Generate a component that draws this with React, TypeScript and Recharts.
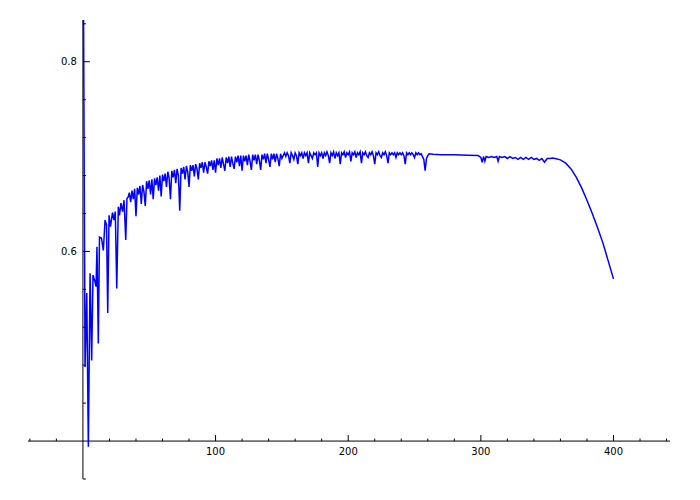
import { LineChart, Line, XAxis, YAxis, ReferenceLine, ReferenceDot } from 'recharts';

// points, [x, y]
const startPoints: [number, number][] = [
  [0.5, 0.844], [1.6, 0.478], [2.9, 0.556], [4.1, 0.394], [5.4, 0.577], [6.6, 0.485],
  [7.6, 0.575], [9.1, 0.568], [9.9, 0.563], [10.6, 0.605], [11.6, 0.503], [12.5, 0.615],
  [14, 0.614], [15.4, 0.601], [16.7, 0.633], [17.8, 0.628], [18.7, 0.535], [19.7, 0.638],
  [20.8, 0.626], [22.3, 0.641], [23.4, 0.633], [24.4, 0.642], [25.5, 0.561], [26.7, 0.647],
  [27.6, 0.638], [28.7, 0.651], [29.9, 0.642], [31, 0.654], [32.3, 0.612], [33.2, 0.656],
];

const risePoints: [number, number][] = [
  [34, 0.657], [35, 0.662], [36, 0.652], [37, 0.664], [38, 0.655], [39, 0.666], [40, 0.637],
  [41, 0.667], [42, 0.66], [43, 0.669], [44, 0.65], [45, 0.67], [46, 0.663], [47, 0.648],
  [48, 0.674], [49, 0.666], [50, 0.675], [51, 0.66], [52, 0.676], [53, 0.655], [54, 0.677],
  [55, 0.67], [56, 0.678], [57, 0.664], [58, 0.68], [59, 0.658], [60, 0.681], [61, 0.674],
  [62, 0.682], [63, 0.668], [64, 0.684], [65, 0.677], [66, 0.655], [67, 0.685], [68, 0.678],
  [69, 0.686], [70, 0.672], [71, 0.687], [72, 0.68], [73, 0.643], [74, 0.688], [75, 0.682],
  [76, 0.689], [77, 0.676], [78, 0.69], [79, 0.684], [80, 0.668], [81, 0.691], [82, 0.685],
  [83, 0.691], [84, 0.679], [85, 0.692], [86, 0.687], [87, 0.676], [88, 0.693], [89, 0.688],
  [90, 0.694], [91, 0.683], [92, 0.694], [93, 0.689], [94, 0.682], [95, 0.695], [96, 0.69],
  [97, 0.696], [98, 0.686], [99, 0.696], [100, 0.683],
];

const plateauPoints: [number, number][] = [
  [101, 0.698], [102, 0.691], [103, 0.698], [104, 0.688], [105, 0.699], [106, 0.692],
  [107, 0.685], [108, 0.699], [109, 0.693], [110, 0.7], [111, 0.689], [112, 0.7], [113, 0.693],
  [114, 0.687], [115, 0.7], [116, 0.694], [117, 0.701], [118, 0.69], [119, 0.701], [120, 0.685],
  [121, 0.701], [122, 0.695], [123, 0.701], [124, 0.691], [125, 0.702], [126, 0.695],
  [127, 0.686], [128, 0.702], [129, 0.696], [130, 0.702], [131, 0.692], [132, 0.702],
  [133, 0.696], [134, 0.686], [135, 0.702], [136, 0.697], [137, 0.703], [138, 0.693],
  [139, 0.703], [140, 0.697], [141, 0.689], [142, 0.703], [143, 0.697], [144, 0.703],
  [145, 0.694], [146, 0.703], [147, 0.698], [148, 0.69], [149, 0.703], [150, 0.698],
];

const topPoints: [number, number][] = [
  [151, 0.701], [152, 0.704], [153, 0.7], [154, 0.704], [155, 0.701], [156, 0.693],
  [157, 0.704], [158, 0.701], [159, 0.697], [160, 0.704], [161, 0.701], [162, 0.692],
  [163, 0.704], [164, 0.701], [165, 0.704], [166, 0.698], [167, 0.704], [168, 0.701],
  [169, 0.704], [170, 0.693], [171, 0.704], [172, 0.701], [173, 0.698], [174, 0.704],
  [175, 0.702], [176, 0.704], [177, 0.689], [178, 0.704], [179, 0.701], [180, 0.704],
  [181, 0.698], [182, 0.704], [183, 0.701], [184, 0.705], [185, 0.701], [186, 0.693],
  [187, 0.704], [188, 0.701], [189, 0.705], [190, 0.698], [191, 0.704], [192, 0.701],
  [193, 0.704], [194, 0.692], [195, 0.704], [196, 0.702], [197, 0.705], [198, 0.699],
  [199, 0.704], [200, 0.702], [201, 0.705], [202, 0.695], [203, 0.704], [204, 0.702],
  [205, 0.705], [206, 0.699], [207, 0.704], [208, 0.702], [209, 0.705], [210, 0.693],
  [211, 0.704], [212, 0.702], [213, 0.705], [214, 0.701], [215, 0.699], [216, 0.704],
  [217, 0.702], [218, 0.705], [219, 0.701], [220, 0.692], [221, 0.704], [222, 0.702],
  [223, 0.705], [224, 0.701], [225, 0.699], [226, 0.704], [227, 0.702], [228, 0.705],
  [229, 0.701], [230, 0.693], [231, 0.704], [232, 0.702], [233, 0.704], [234, 0.702],
  [235, 0.704], [236, 0.699], [237, 0.704], [238, 0.702], [239, 0.704], [240, 0.702],
  [241, 0.704], [242, 0.701], [243, 0.692], [244, 0.704], [245, 0.702], [246, 0.704],
  [247, 0.702], [248, 0.704], [249, 0.702], [250, 0.699], [251, 0.704], [252, 0.702],
  [253, 0.704], [254, 0.702], [255, 0.703], [256, 0.7], [257, 0.697], [258, 0.685],
  [259, 0.698], [260, 0.701], [261, 0.703],
];

const flatPoints: [number, number][] = [
  [264, 0.7025], [270, 0.702], [280, 0.702], [290, 0.7015], [298, 0.701],
  [300, 0.699], [301, 0.694], [302, 0.7], [303, 0.695], [304, 0.7], [306, 0.699], [308, 0.7],
  [310, 0.699], [312, 0.7], [313, 0.695], [314, 0.7], [316, 0.699], [318, 0.7], [320, 0.698],
  [322, 0.7], [324, 0.698], [326, 0.699], [328, 0.697], [330, 0.699], [332, 0.697],
  [334, 0.699], [336, 0.697], [338, 0.699], [340, 0.697], [342, 0.698], [344, 0.696],
  [346, 0.698], [348, 0.694], [350, 0.698], [352, 0.698], [354, 0.6985],
];

const tailPoints: [number, number][] = [
  [356, 0.698], [360, 0.6965], [364, 0.693], [368, 0.687], [372, 0.678], [376, 0.667],
  [380, 0.654], [384, 0.64], [388, 0.625], [392, 0.609], [396, 0.59], [400, 0.571],
];

const xMajorTicks = [100, 200, 300, 400];
const xMinorTicks = [-40, -20, 20, 40, 60, 80, 120, 140, 160, 180, 220, 240, 260, 280, 320, 340, 360, 380, 420, 440];
const yMajorTicks = [0.6, 0.8];
const yMinorTicks = [0.36, 0.44, 0.48, 0.52, 0.56, 0.64, 0.68, 0.72, 0.76, 0.84];

const data = [
  ...startPoints,
  ...risePoints,
  ...plateauPoints,
  ...topPoints,
  ...flatPoints,
  ...tailPoints,
].map(([x, y]) => ({ x, y }));

const font = 'DejaVu Sans, sans-serif';

const xTick = (len: number, label?: string) => (p: any) => (
  <g>
    <line x1={p.cx} y1={p.cy} x2={p.cx} y2={p.cy - len} stroke="#000" strokeWidth={1} />
    {label && (
      <text x={p.cx} y={p.cy + 14} textAnchor="middle" fontSize={10} fontFamily={font} fill="#000">
        {label}
      </text>
    )}
  </g>
);

const yTick = (len: number, label?: string) => (p: any) => (
  <g>
    <line x1={p.cx} y1={p.cy} x2={p.cx + len} y2={p.cy} stroke="#000" strokeWidth={1} />
    {label && (
      <text x={p.cx - 6} y={p.cy + 3.5} textAnchor="end" fontSize={10} fontFamily={font} fill="#000">
        {label}
      </text>
    )}
  </g>
);

export default function App() {
  return (
    <LineChart
      width={684}
      height={484}
      data={data}
      margin={{ top: 12, right: 22, bottom: 13, left: 20 }}
    >
      <XAxis type="number" dataKey="x" domain={[-41.4, 442.6]} allowDataOverflow hide />
      <YAxis type="number" domain={[0.36, 0.844]} allowDataOverflow hide />
      <ReferenceLine y={0.4} stroke="#000" strokeWidth={1} />
      <ReferenceLine x={0} stroke="#000" strokeWidth={1} />
      <Line
        dataKey="y"
        type="linear"
        stroke="#0000ff"
        strokeWidth={1.5}
        dot={false}
        isAnimationActive={false}
      />
      {xMinorTicks.map((t) => (
        <ReferenceDot key={`xm${t}`} x={t} y={0.4} r={0} shape={xTick(2.5)} />
      ))}
      {xMajorTicks.map((t) => (
        <ReferenceDot key={`xM${t}`} x={t} y={0.4} r={0} shape={xTick(6, String(t))} />
      ))}
      {yMinorTicks.map((t) => (
        <ReferenceDot key={`ym${t}`} x={0} y={t} r={0} shape={yTick(3)} />
      ))}
      {yMajorTicks.map((t) => (
        <ReferenceDot key={`yM${t}`} x={0} y={t} r={0} shape={yTick(7, String(t))} />
      ))}
    </LineChart>
  );
}
